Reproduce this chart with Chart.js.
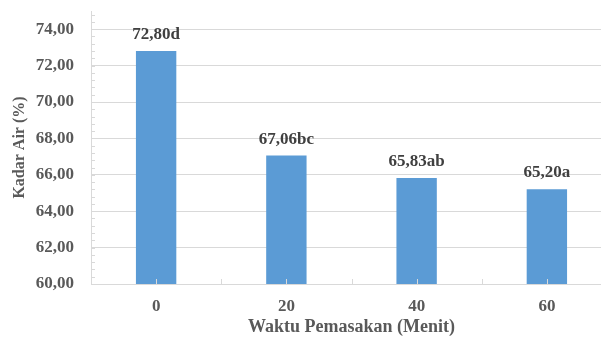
<!DOCTYPE html>
<html>
<head>
<meta charset="utf-8">
<script src="https://cdn.jsdelivr.net/npm/chart.js@4/dist/chart.umd.min.js"></script>
<style>
  html, body { margin: 0; padding: 0; background: #fff; overflow: hidden; }
  #wrap { width: 613px; height: 338px; }
</style>
</head>
<body>
<div id="wrap"><canvas id="c" width="613" height="338"></canvas></div>
<script>
// Cooking time categories (minutes)
const categories = ['0', '20', '40', '60'];
// Moisture content (%) per cooking time
const moisture = [72.80, 67.06, 65.83, 65.20];
// Significance letters shown after each value
const letters = ['d', 'bc', 'ab', 'a'];
// Y axis range and labelled tick values
const yMin = 60, yMax = 75;
const yTicks = [60, 62, 64, 66, 68, 70, 72, 74];

const textDark = '#404040';
const textGray = '#595959';
const lineGray = '#d9d9d9';
const serifFamily = '"Liberation Serif", "Times New Roman", serif';

const fmt = v => v.toFixed(2).replace('.', ',');

// Value labels above each bar
const valueLabels = {
  id: 'valueLabels',
  afterDatasetsDraw(chart) {
    const ctx = chart.ctx;
    const meta = chart.getDatasetMeta(0);
    ctx.save();
    ctx.font = 'bold 17px ' + serifFamily;
    ctx.fillStyle = textDark;
    ctx.textAlign = 'center';
    ctx.textBaseline = 'alphabetic';
    meta.data.forEach((bar, i) => {
      ctx.fillText(fmt(moisture[i]) + letters[i], bar.x, bar.y - 12);
    });
    ctx.restore();
  }
};

// Small inside tick marks: minor ticks on y, boundary + centre ticks on x
const insideTicks = {
  id: 'insideTicks',
  afterDatasetsDraw(chart) {
    const ctx = chart.ctx;
    const x = chart.scales.x, y = chart.scales.y;
    const area = chart.chartArea;
    ctx.save();
    ctx.strokeStyle = lineGray;
    ctx.lineWidth = 1;
    ctx.beginPath();
    for (let k = 0; k <= (yMax - yMin) / 0.4 + 1e-6; k++) {
      const py = Math.round(y.getPixelForValue(yMin + k * 0.4)) + 0.5;
      ctx.moveTo(area.left, py);
      ctx.lineTo(area.left + 4, py);
    }
    for (let i = 0; i < categories.length; i++) {
      const cx = Math.round(x.getPixelForValue(i)) + 0.5;
      ctx.moveTo(cx, area.bottom);
      ctx.lineTo(cx, area.bottom - 5);
      if (i > 0) {
        const bx = Math.round((x.getPixelForValue(i) + x.getPixelForValue(i - 1)) / 2) + 0.5;
        ctx.moveTo(bx, area.bottom);
        ctx.lineTo(bx, area.bottom - 5);
      }
    }
    ctx.stroke();
    ctx.restore();
  }
};

new Chart(document.getElementById('c'), {
  type: 'bar',
  data: {
    labels: categories,
    datasets: [{
      data: moisture,
      backgroundColor: '#5b9bd5',
      borderWidth: 0,
      categoryPercentage: 1,
      barPercentage: 0.31
    }]
  },
  options: {
    responsive: false,
    animation: false,
    devicePixelRatio: 1,
    layout: { padding: { left: 4, right: 1, top: 11, bottom: 0 } },
    plugins: { legend: { display: false }, tooltip: { enabled: false } },
    scales: {
      x: {
        offset: true,
        grid: { display: false, drawTicks: false },
        border: { display: true, color: lineGray, width: 1 },
        ticks: { color: textGray, font: { family: serifFamily, weight: 'bold', size: 17 }, padding: 12 },
        title: {
          display: true,
          text: 'Waktu Pemasakan (Menit)',
          color: textGray,
          font: { family: serifFamily, weight: 'bold', size: 18 },
          padding: { top: 1, bottom: 0 }
        },
        afterFit(scale) {
          scale.height = 54;
          scale.paddingLeft = 0;
          scale.paddingRight = 0;
        }
      },
      y: {
        min: yMin,
        max: yMax,
        afterBuildTicks(scale) {
          scale.ticks = yTicks.map(v => ({ value: v }));
        },
        grid: { color: lineGray, drawTicks: false },
        border: { display: true, color: lineGray, width: 1 },
        ticks: {
          color: textGray,
          font: { family: serifFamily, weight: 'bold', size: 17 },
          padding: 17,
          callback: v => fmt(v)
        },
        title: {
          display: true,
          text: 'Kadar Air (%)',
          color: textGray,
          font: { family: serifFamily, weight: 'bold', size: 16 },
          padding: { top: 6, bottom: 0 }
        },
        afterFit(scale) {
          scale.width = 87;
          scale.paddingTop = 0;
          scale.paddingBottom = 0;
        }
      }
    }
  },
  plugins: [valueLabels, insideTicks]
});
</script>
</body>
</html>
